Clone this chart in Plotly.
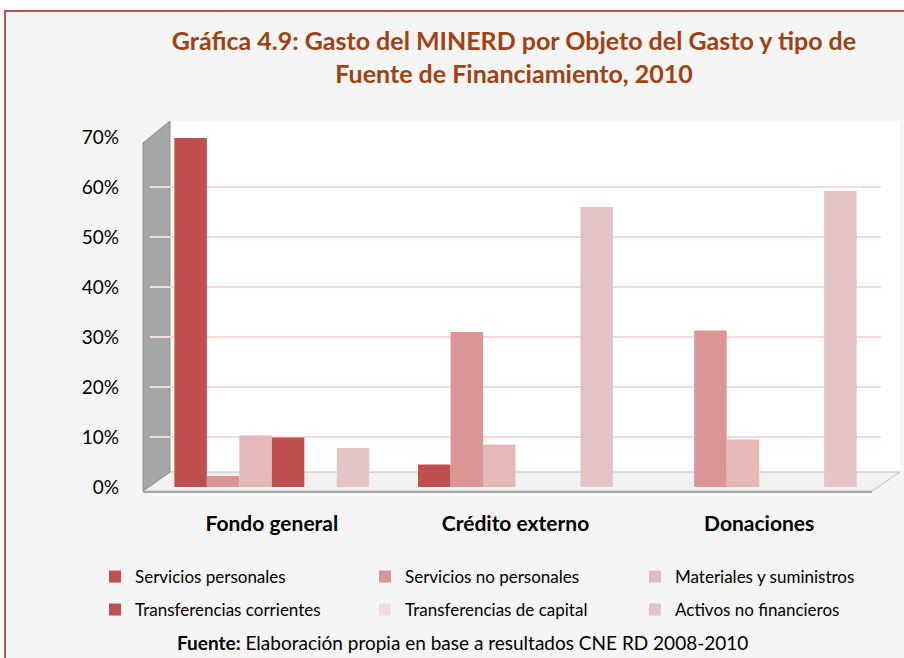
import plotly.graph_objects as go

categories = ["Fondo general", "Crédito externo", "Donaciones"]
series_names = [
    "Servicios personales",
    "Servicios no personales",
    "Materiales y suministros",
    "Transferencias corrientes",
    "Transferencias de capital",
    "Activos no financieros",
]
servicios_personales = [0.698, 0.045, 0.0]
servicios_no_personales = [0.022, 0.310, 0.313]
materiales_suministros = [0.103, 0.085, 0.095]
transferencias_corrientes = [0.099, 0.0, 0.0]
transferencias_capital = [0.0, 0.0, 0.0]
activos_no_financieros = [0.078, 0.560, 0.592]
series_values = [servicios_personales, servicios_no_personales, materiales_suministros,
                 transferencias_corrientes, transferencias_capital, activos_no_financieros]
colors = ["#C0504D", "#D99694", "#E6B9B8", "#C0504D", "#F2DCDB", "#E3C3C5"]
tick_vals = [0, 0.1, 0.2, 0.3, 0.4, 0.5, 0.6, 0.7]
tick_text = ["0%", "10%", "20%", "30%", "40%", "50%", "60%", "70%"]

W, H = 904, 658
PLOT_L, PLOT_R, PLOT_T, PLOT_B = 150, 881, 137, 487  # window pixels
L, R, T, B = PLOT_L, W - PLOT_R, PLOT_T, H - PLOT_B
PW, PH = W - L - R, H - T - B


def px(x):  # window pixel -> paper x
    return (x - L) / PW


def py(y):  # window pixel -> paper y
    return (H - B - y) / PH


FONT = "Lato, Open Sans, sans-serif"

fig = go.Figure()
for i, (name, vals, col) in enumerate(zip(series_names, series_values, colors)):
    fig.add_trace(go.Bar(
        x=categories, y=vals, name=name, marker=dict(color=col, line=dict(width=0)),
        legend="legend" if i < 3 else "legend2",
        hovertemplate="%{x}<br>" + name + ": %{y:.1%}<extra></extra>",
    ))

shapes = [
    # outer white surround and red frame
    dict(type="rect", xref="paper", yref="paper", x0=px(0), x1=px(W), y0=py(H), y1=py(0),
         fillcolor="white", line=dict(width=0), layer="below"),
    dict(type="rect", xref="paper", yref="paper", x0=px(5), x1=px(W + 10), y0=py(11), y1=py(H + 10),
         fillcolor="#F5F5F5", line=dict(color="#C0504D", width=2), layer="below"),
    # back wall
    dict(type="rect", xref="paper", yref="paper", x0=px(170), x1=px(900), y0=py(472), y1=py(121),
         fillcolor="white", line=dict(width=0), layer="below"),
    # floor
    dict(type="path", xref="paper", yref="paper",
         path=f"M {px(143)},{py(491)} L {px(872)},{py(491)} L {px(900)},{py(472)} L {px(170)},{py(472)} Z",
         fillcolor="#F2F2F2", line=dict(color="#BFBFBF", width=1), layer="below"),
    dict(type="line", xref="paper", yref="paper", x0=px(143), x1=px(872), y0=py(492), y1=py(492),
         line=dict(color="#A6A6A6", width=2), layer="below"),
    # left wall
    dict(type="path", xref="paper", yref="paper",
         path=f"M {px(143)},{py(491)} L {px(143)},{py(143)} L {px(170)},{py(121)} L {px(170)},{py(472)} Z",
         fillcolor="#A6A6A6", line=dict(color="#8C8C8C", width=1), layer="below"),
]

fig.update_layout(
    width=W, height=H,
    margin=dict(l=L, r=R, t=T, b=B, autoexpand=False),
    paper_bgcolor="#F5F5F5",
    plot_bgcolor="rgba(0,0,0,0)",
    font=dict(family=FONT, color="black"),
    title=dict(
        text="<b>Gráfica 4.9: Gasto del MINERD por Objeto del Gasto y tipo de<br>Fuente de Financiamiento, 2010</b>",
        x=px(514), xanchor="center", xref="paper", y=1 - 50 / H, yanchor="top",
        font=dict(size=25, color="#A0410F", family=FONT),
    ),
    barmode="group", bargap=0.2, bargroupgap=0,
    xaxis=dict(showgrid=False, showline=False, ticks="", ticklabelstandoff=22,
               tickfont=dict(size=21, family=FONT, weight="bold"), fixedrange=True),
    yaxis=dict(range=[0, 0.7], tickvals=tick_vals, ticktext=tick_text, showgrid=True,
               gridcolor="#F2DCDB", gridwidth=2, zeroline=False, showline=False, ticks="",
               ticklabelstandoff=30, tickfont=dict(size=19, family=FONT), fixedrange=True),
    legend=dict(orientation="h", x=px(95), y=py(559), xanchor="left", yanchor="top",
                entrywidth=225, entrywidthmode="pixels", font=dict(size=17, family=FONT),
                bgcolor="rgba(0,0,0,0)", traceorder="normal"),
    legend2=dict(orientation="h", x=px(95), y=py(592), xanchor="left", yanchor="top",
                 entrywidth=225, entrywidthmode="pixels", font=dict(size=17, family=FONT),
                 bgcolor="rgba(0,0,0,0)", traceorder="normal"),
    shapes=shapes,
    annotations=[dict(
        text="<b>Fuente:</b> Elaboración propia en base a resultados CNE RD 2008-2010",
        xref="paper", yref="paper", x=px(462), y=py(642), xanchor="center", yanchor="middle",
        showarrow=False, font=dict(size=19, family=FONT, color="black"),
    )],
)

# remove the page's default body margin so the figure fills the 904x658 window exactly
fig.write_html(
    "out.html",
    config={"displayModeBar": False},
    post_script="document.body.style.margin='0';document.body.style.overflow='hidden';",
)
